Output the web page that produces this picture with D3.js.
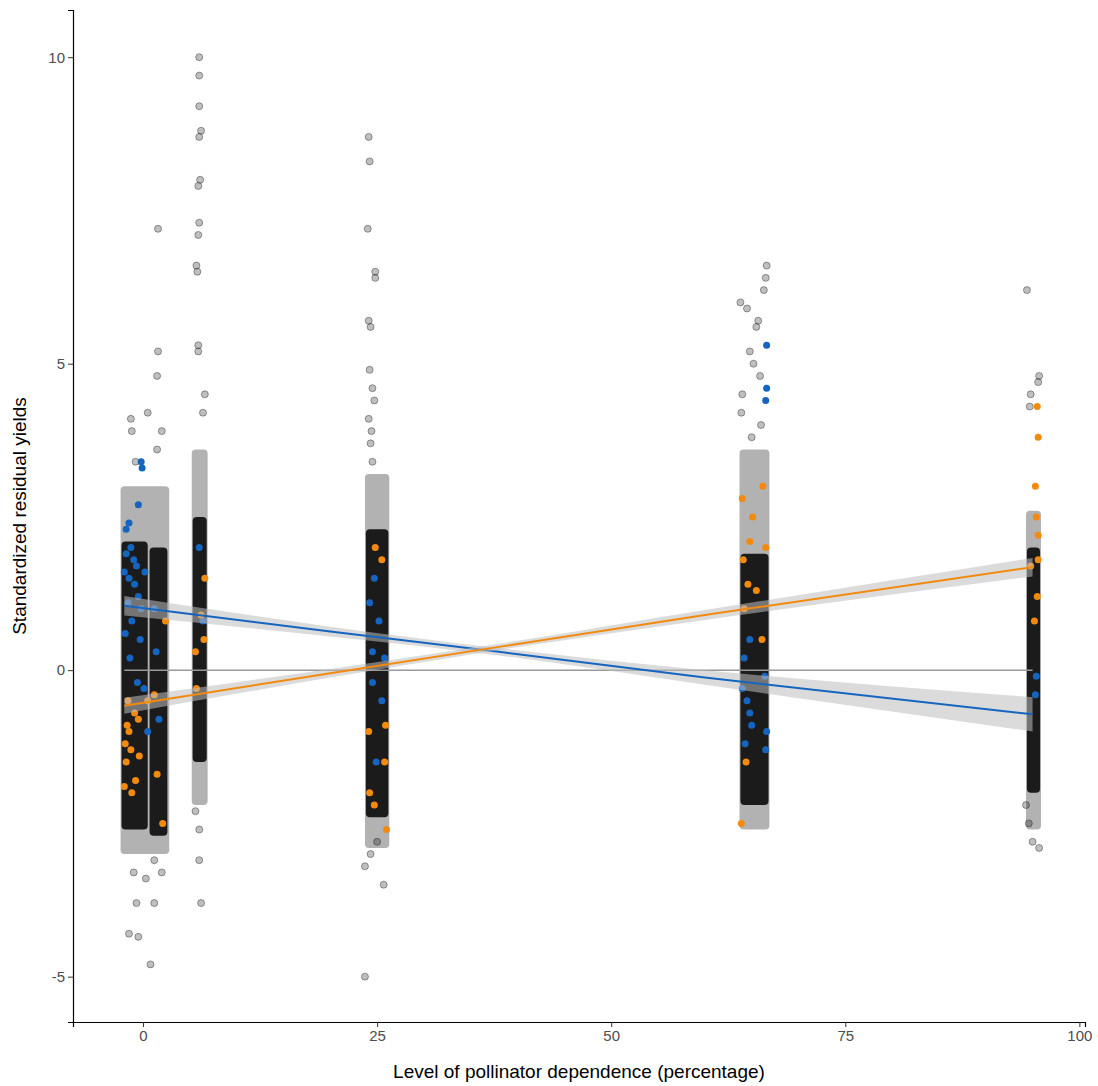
<!DOCTYPE html><html><head><meta charset="utf-8"><script src="https://cdn.jsdelivr.net/npm/d3@7"></script>
<style>body{margin:0;background:#fff}</style></head><body><svg id="c" width="1098" height="1086"></svg>
<script>
const xTicks=[0,25,50,75,100], yTicks=[-5,0,5,10];
const cores=[[-2.3,0.5,-2.6,2.1],[0.7,2.6,-2.7,2.0],[5.3,6.8,-1.5,2.5],[23.8,26.2,-2.4,2.3],[63.8,66.8,-2.2,1.9],[94.4,95.8,-2.0,2.0]];
const halos=[[-2.4,2.8,-3.0,3.0],[5.2,6.9,-2.2,3.6],[23.7,26.3,-2.9,3.2],[63.7,66.9,-2.6,3.6],[94.3,95.9,-2.6,2.6]];
const outliers=[[-1.3,4.1],[-1.2,3.9],[-0.8,3.4],[-1.5,-4.3],[-0.5,-4.35],[0.8,-4.8],[1.2,-3.8],[-0.7,-3.8],[1.6,7.2],[1.6,5.2],[1.5,4.8],[0.5,4.2],[2,3.9],[1.5,3.6],[-1,-3.3],[0.3,-3.4],[2,-3.3],[1.2,-3.1],
[6,10],[6,9.7],[6,9.2],[6.2,8.8],[6,8.7],[6.1,8.0],[5.9,7.9],[6,7.3],[5.9,7.1],[5.7,6.6],[5.8,6.5],[5.9,5.3],[5.9,5.2],[6.6,4.5],[6.4,4.2],[6,-2.6],[6,-3.1],[6.2,-3.8],[5.6,-2.3],
[24.1,8.7],[24.2,8.3],[24,7.2],[24.8,6.5],[24.8,6.4],[24.1,5.7],[24.3,5.6],[24.2,4.9],[24.5,4.6],[24.7,4.4],[24.1,4.1],[24.4,3.9],[24.3,3.7],[24.5,3.4],[23.7,-5],[25.7,-3.5],[23.7,-3.2],[25,-2.8],[24.3,-3.0],
[63.8,6.0],[64.5,5.9],[66.6,6.6],[66.5,6.4],[66.3,6.2],[65.7,5.7],[65.5,5.6],[64.8,5.2],[65.2,5.0],[64,4.5],[65.9,4.8],[63.9,4.2],[66,4.0],[65,3.8],
[94.4,6.2],[94.8,4.5],[94.7,4.3],[95.7,4.8],[95.6,4.7],[95,-2.8],[95.7,-2.9],[94.3,-2.2],[94.6,-2.5]];
const bluePts=[[-1.5,2.4],[-1.8,2.3],[-0.5,2.7],[-0.2,3.4],[-0.1,3.3],[-1,1.8],[-1.5,1.5],[-0.5,1.2],[-1.2,0.8],[-0.3,0.5],[0.2,1.6],[1.2,1.0],[1.4,0.3],[1.7,-0.8],[0.5,-1],[-1.8,1.9],[-0.9,1.4],[-1.6,1.1],[-2,1.6],[-1.3,2.0],[-0.7,1.7],[-1.9,0.6],[-0.2,1.0],[-1.4,0.2],[0.1,-0.3],[-0.6,-0.2],[6,2],[6.4,0.8],[24.7,1.5],[25.2,0.8],[24.5,0.3],[25.5,-0.5],[24.9,-1.5],[24.2,1.1],[25.8,0.2],[64.2,0.2],[64.5,-0.5],[65,-0.9],[64,-0.3],[64.3,-1.2],[64.8,0.5],[66.6,5.3],[66.6,4.6],[66.5,4.4],[66.4,-0.1],[66.6,-1.0],[66.5,-1.3],[95.4,-0.1],[95.3,-0.4],[64.8,-0.7],[24.5,-0.2]];
const orangePts=[[-1.5,-1],[-1.8,-1.5],[-1.2,-2],[-0.8,-1.8],[-1.6,-0.5],[-0.5,-0.8],[0.5,-0.5],[-1.9,-1.2],[-2,-1.9],[-1.3,-1.3],[-0.4,-1.4],[-1.7,-0.9],[-0.9,-0.7],[1.2,-0.4],[1.5,-1.7],[2.1,-2.5],[2.4,0.8],[6.6,1.5],[6.5,0.5],[5.6,0.3],[5.7,-0.3],[6.2,0.9],[24.2,-2.0],[25.8,-1.5],[25.5,1.8],[24.8,2.0],[26,-2.6],[24.7,-2.2],[25.9,-0.9],[24.1,-1.0],[64,2.8],[64.8,2.1],[65.5,1.3],[64.2,1.0],[63.9,-2.5],[64.4,-1.5],[66.2,3.0],[66.5,2.0],[66.1,0.5],[65.1,2.5],[64.1,1.8],[64.6,1.4],[95.5,4.3],[95.6,3.8],[95.3,3.0],[95.4,2.5],[95.6,1.8],[95.5,1.2],[94.8,1.7],[95.2,0.8],[95.6,2.2]];
const fitX=[-2,20,38,60,95];
const blueFit=[1.05,0.63,0.3,-0.12,-0.72];
const blueCI=[0.16,0.08,0.06,0.12,0.28];
const orangeFit=[-0.58,-0.05,0.38,0.9,1.68];
const orangeCI=[0.13,0.07,0.05,0.08,0.15];

const svg=d3.select("#c");
const x=d3.scaleLinear().domain([-7.48,100.6]).range([73,1085]);
const y=d3.scaleLinear().domain([-5.74,10.77]).range([1022,10]);
const g=svg.append("g");
halos.forEach(c=>g.append("rect").attr("x",x(c[0])).attr("width",x(c[1])-x(c[0])).attr("y",y(c[3])).attr("height",y(c[2])-y(c[3])).attr("rx",4).attr("fill","#000").attr("opacity",0.3));
cores.forEach(c=>g.append("rect").attr("x",x(c[0])).attr("width",x(c[1])-x(c[0])).attr("y",y(c[3])).attr("height",y(c[2])-y(c[3])).attr("rx",4).attr("fill","#0a0a0a").attr("opacity",0.9));
g.selectAll(".o").data(outliers).join("circle").attr("cx",d=>x(d[0])).attr("cy",d=>y(d[1])).attr("r",3.5).attr("fill","rgba(0,0,0,0.25)").attr("stroke","rgba(0,0,0,0.45)").attr("stroke-width",0.8);
g.selectAll(".b").data(bluePts).join("circle").attr("cx",d=>x(d[0])).attr("cy",d=>y(d[1])).attr("r",3.5).attr("fill","#1565c0");
g.selectAll(".or").data(orangePts).join("circle").attr("cx",d=>x(d[0])).attr("cy",d=>y(d[1])).attr("r",3.5).attr("fill","#f28a0f");
g.append("line").attr("x1",x(-2)).attr("x2",x(95)).attr("y1",y(0)).attr("y2",y(0)).attr("stroke","#999").attr("stroke-width",1.5);
function fit(vals,ci,col){
  const pts=fitX.map((v,i)=>({x:v,y:vals[i],c:ci[i]}));
  g.append("path").datum(pts).attr("fill","rgba(190,190,190,0.55)").attr("d",d3.area().x(d=>x(d.x)).y0(d=>y(d.y-d.c)).y1(d=>y(d.y+d.c)).curve(d3.curveMonotoneX));
  g.append("path").datum(pts).attr("fill","none").attr("stroke",col).attr("stroke-width",2).attr("d",d3.line().x(d=>x(d.x)).y(d=>y(d.y)));
}
fit(blueFit,blueCI,"#1565c0");fit(orangeFit,orangeCI,"#f28a0f");
const xa=svg.append("g").attr("transform","translate(0,1022)").call(d3.axisBottom(x).tickValues(xTicks).tickSize(5).tickFormat(d3.format("d")));
const ya=svg.append("g").attr("transform","translate(73,0)").call(d3.axisLeft(y).tickValues(yTicks).tickSize(5).tickFormat(d=>String(d)));
[xa,ya].forEach(a=>{a.selectAll("text").attr("font-family","Liberation Sans, Arial").attr("font-size",15).attr("fill","#4d4d4d");a.select(".domain").attr("stroke","#000").attr("stroke-width",1.2);a.selectAll(".tick line").attr("stroke","#333");});
svg.append("text").attr("x",579).attr("y",1078).attr("text-anchor","middle").attr("font-family","Liberation Sans, Arial").attr("font-size",19).text("Level of pollinator dependence (percentage)");
svg.append("text").attr("transform","translate(26,516) rotate(-90)").attr("text-anchor","middle").attr("font-family","Liberation Sans, Arial").attr("font-size",19).text("Standardized residual yields");
</script></body></html>
